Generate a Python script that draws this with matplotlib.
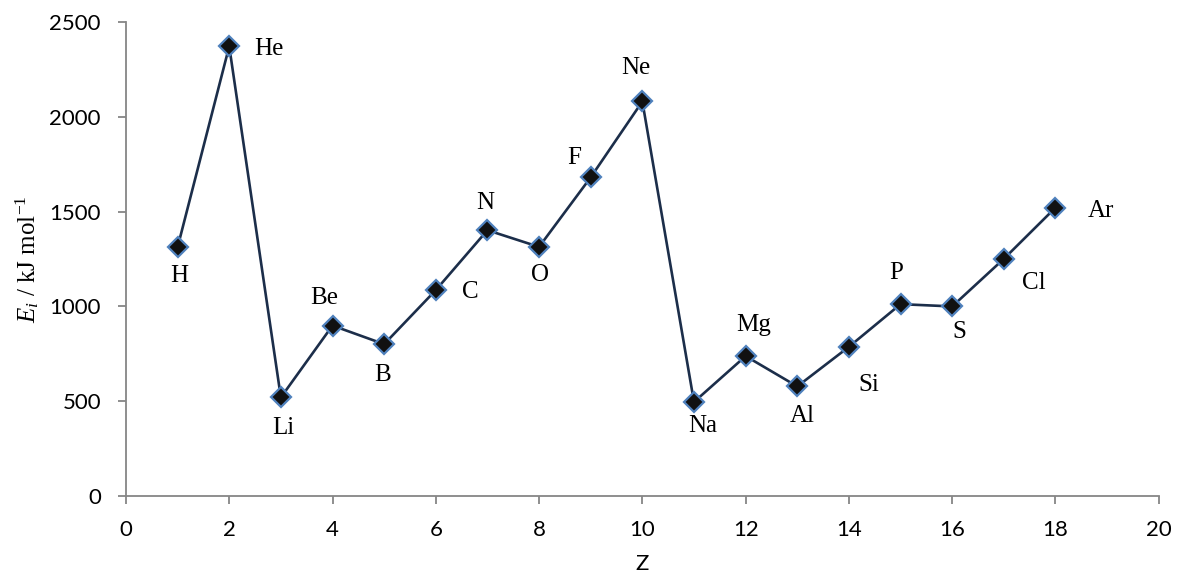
import matplotlib
matplotlib.use("Agg")
import matplotlib.pyplot as plt

# first ionisation energies, period 1-3
z = [1, 2, 3, 4, 5, 6, 7, 8, 9, 10, 11, 12, 13, 14, 15, 16, 17, 18]
energy = [1312, 2372, 520, 899, 801, 1086, 1402, 1314, 1681, 2081,
          496, 738, 578, 787, 1012, 1000, 1251, 1521]
symbols = ["H", "He", "Li", "Be", "B", "C", "N", "O", "F", "Ne",
           "Na", "Mg", "Al", "Si", "P", "S", "Cl", "Ar"]

# label offsets in pixels (dx, dy) from each point
offsets = [(2, -29), (40, -3), (2, -31), (-8, 28), (-2, -31), (35, -2),
           (-2, 27), (1, -28), (-16, 19), (-7, 33), (9, -24), (8, 31),
           (5, -30), (20, -38), (-4, 31), (7, -26), (30, -24), (45, -3)]

plt.rcParams['mathtext.fontset'] = 'custom'
plt.rcParams['mathtext.rm'] = 'Liberation Serif'
plt.rcParams['mathtext.it'] = 'Liberation Serif:italic'

fig = plt.figure(figsize=(11.77, 5.80), dpi=100)
ax = fig.add_axes([0.1070, 0.1448, 0.8775, 0.8172])

ax.plot(z, energy, color="#1c2e4a", lw=1.9, marker="D", ms=10,
        mfc="#111111", mec="#4f81bd", mew=1.6, zorder=3)

for x, y, s, (dx, dy) in zip(z, energy, symbols, offsets):
    ax.annotate(s, (x, y), xytext=(dx, dy), textcoords="offset pixels",
                ha="center", va="center", fontsize=18,
                family="Liberation Serif", color="black")

ax.set_xlim(0, 20)
ax.set_ylim(0, 2500)
ax.set_xticks(range(0, 21, 2))
ax.set_yticks(range(0, 2501, 500))

for side in ["top", "right"]:
    ax.spines[side].set_visible(False)
for side in ["left", "bottom"]:
    ax.spines[side].set_color("#868686")
    ax.spines[side].set_linewidth(1.3)
ax.tick_params(axis="both", direction="out", length=6, width=1.3,
               color="#868686", labelsize=16)
ax.tick_params(axis="y", pad=12)
ax.tick_params(axis="x", pad=11)
for lab in ax.get_xticklabels() + ax.get_yticklabels():
    lab.set_family("Lato")

ax.set_xlabel("Z", fontsize=16, family="Lato", labelpad=10)
ax.set_ylabel(r"$E_i$ / kJ mol$^{\mathregular{-1}}$", fontsize=18,
              family="Liberation Serif", labelpad=6)

fig.savefig("out.png", dpi=100)
